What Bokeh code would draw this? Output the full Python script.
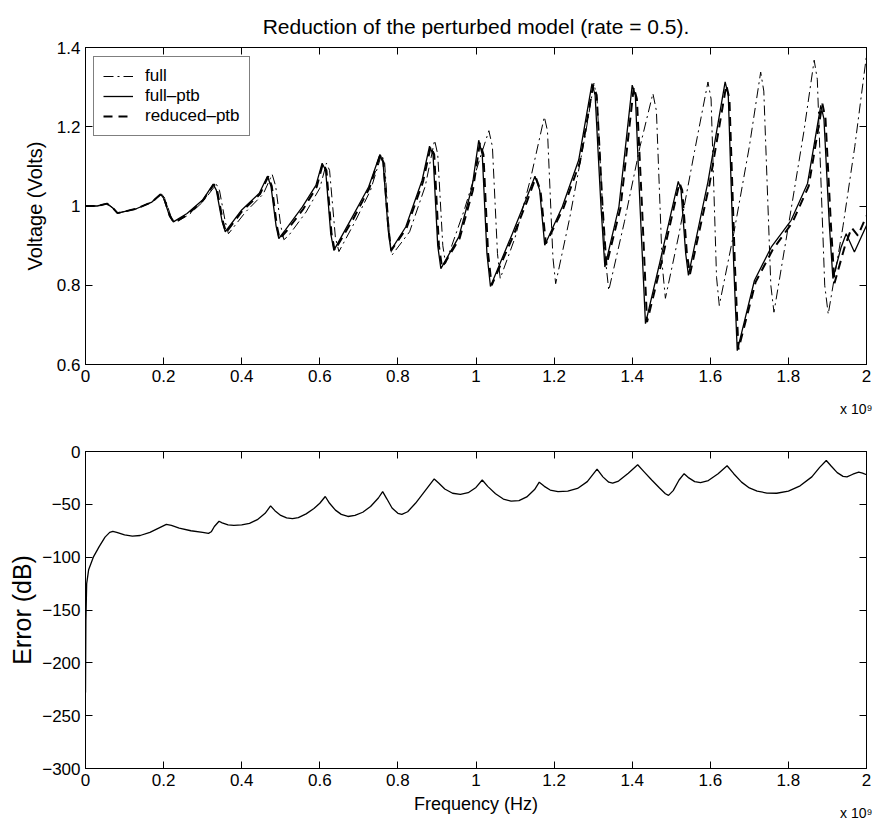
from bokeh.plotting import figure
from bokeh.layouts import column
from bokeh.models import (FixedTicker, LinearAxis, Label, Legend, LegendItem,
                          Range1d, CustomJSTickFormatter)
from bokeh.embed import file_html
from bokeh.resources import INLINE

FONT = "Liberation Sans"

# ---------------- data ----------------
title_text = "Reduction of the perturbed model (rate = 0.5)."
exponent_text = "x 10\u2079"

x_ticks = [0.0, 0.2, 0.4, 0.6, 0.8, 1.0, 1.2, 1.4, 1.6, 1.8, 2.0]
x_tick_labels = ["0", "0.2", "0.4", "0.6", "0.8", "1", "1.2", "1.4", "1.6", "1.8", "2"]

v_ticks = [0.6, 0.8, 1.0, 1.2, 1.4]
v_tick_labels = ["0.6", "0.8", "1", "1.2", "1.4"]

e_ticks = [-300, -250, -200, -150, -100, -50, 0]
e_tick_labels = ["\u2212300", "\u2212250", "\u2212200", "\u2212150", "\u2212100", "\u221250", "0"]

# frequency in units of 1e9 Hz
full_x = [0, 0.03, 0.055, 0.07, 0.082, 0.13, 0.17, 0.195, 0.203, 0.22, 0.23, 0.265, 0.30,
          0.335, 0.343, 0.358, 0.366, 0.41, 0.455, 0.478, 0.487, 0.50, 0.508, 0.52, 0.565,
          0.60, 0.617, 0.625, 0.64, 0.649, 0.69, 0.73, 0.758, 0.766, 0.778, 0.784, 0.83,
          0.87, 0.894, 0.902, 0.915, 0.922, 0.97, 1.01, 1.033, 1.042, 1.055, 1.062, 1.10,
          1.14, 1.175, 1.183, 1.197, 1.204, 1.24, 1.28, 1.302, 1.31, 1.33, 1.340, 1.38,
          1.42, 1.453, 1.462, 1.477, 1.485, 1.52, 1.56, 1.594, 1.602, 1.616, 1.623, 1.66,
          1.70, 1.729, 1.737, 1.755, 1.763, 1.80, 1.84, 1.866, 1.874, 1.893, 1.902, 1.94,
          1.97, 2.0]
full_y = [1.0, 1.0, 1.006, 0.995, 0.982, 0.993, 1.010, 1.030, 1.02, 0.97, 0.958, 0.978, 1.01,
          1.055, 1.04, 0.96, 0.930, 0.985, 1.030, 1.08, 1.05, 0.95, 0.915, 0.925, 0.985,
          1.045, 1.108, 1.09, 0.92, 0.885, 0.96, 1.04, 1.13, 1.11, 0.93, 0.875, 0.935,
          1.05, 1.166, 1.13, 0.90, 0.855, 0.99, 1.12, 1.19, 1.15, 0.88, 0.817, 0.92,
          1.07, 1.225, 1.19, 0.87, 0.804, 0.97, 1.18, 1.31, 1.27, 0.88, 0.787, 0.96,
          1.15, 1.284, 1.24, 0.85, 0.767, 0.93, 1.14, 1.313, 1.27, 0.82, 0.749, 0.93,
          1.15, 1.338, 1.29, 0.80, 0.732, 0.95, 1.19, 1.368, 1.32, 0.80, 0.727, 0.95,
          1.15, 1.38]

ptb_x = [0, 0.03, 0.055, 0.07, 0.082, 0.13, 0.17, 0.192, 0.2, 0.215, 0.225, 0.26, 0.30,
         0.327, 0.335, 0.35, 0.358, 0.40, 0.445, 0.466, 0.475, 0.488, 0.495, 0.512, 0.555,
         0.59, 0.606, 0.615, 0.628, 0.636, 0.683, 0.725, 0.754, 0.762, 0.775, 0.782, 0.82,
         0.862, 0.881, 0.89, 0.902, 0.91, 0.956, 0.99, 1.007, 1.016, 1.028, 1.037, 1.093,
         1.127, 1.151, 1.163, 1.176, 1.221, 1.263, 1.297, 1.305, 1.32, 1.33, 1.366, 1.40,
         1.408, 1.42, 1.434, 1.468, 1.518, 1.525, 1.537, 1.544, 1.594, 1.638, 1.646, 1.66,
         1.669, 1.713, 1.756, 1.807, 1.849, 1.883, 1.891, 1.905, 1.914, 1.935, 1.948, 1.969,
         2.0]
ptb_y = [1.0, 1.0, 1.006, 0.995, 0.982, 0.993, 1.010, 1.030, 1.02, 0.975, 0.960, 0.981, 1.015,
         1.055, 1.04, 0.96, 0.935, 0.990, 1.032, 1.075, 1.05, 0.95, 0.918, 0.94, 0.997,
         1.052, 1.108, 1.09, 0.93, 0.888, 0.972, 1.048, 1.130, 1.11, 0.94, 0.888, 0.947,
         1.065, 1.151, 1.13, 0.90, 0.842, 0.922, 1.048, 1.166, 1.13, 0.88, 0.797, 0.930,
         1.014, 1.075, 1.04, 0.901, 0.998, 1.116, 1.309, 1.28, 1.0, 0.846, 0.998, 1.305,
         1.28, 1.0, 0.703, 0.846, 1.062, 1.04, 0.88, 0.825, 1.061, 1.313, 1.28, 0.85,
         0.635, 0.812, 0.896, 0.964, 1.057, 1.254, 1.22, 0.95, 0.817, 0.896, 0.930, 0.884,
         0.951]

red_x = [0, 0.03, 0.055, 0.07, 0.082, 0.13, 0.17, 0.193, 0.201, 0.216, 0.227, 0.262, 0.30,
         0.329, 0.337, 0.352, 0.360, 0.402, 0.447, 0.468, 0.477, 0.490, 0.497, 0.515, 0.558,
         0.592, 0.608, 0.617, 0.630, 0.638, 0.686, 0.727, 0.755, 0.763, 0.776, 0.783, 0.822,
         0.864, 0.884, 0.893, 0.905, 0.913, 0.958, 0.992, 1.010, 1.019, 1.031, 1.040, 1.096,
         1.130, 1.153, 1.165, 1.179, 1.224, 1.266, 1.300, 1.309, 1.324, 1.334, 1.370, 1.404,
         1.412, 1.425, 1.438, 1.472, 1.521, 1.528, 1.540, 1.548, 1.598, 1.641, 1.649, 1.663,
         1.672, 1.716, 1.76, 1.81, 1.852, 1.887, 1.895, 1.909, 1.918, 1.945, 1.962, 1.978,
         2.0]
red_y = [1.0, 1.0, 1.006, 0.995, 0.982, 0.993, 1.010, 1.030, 1.02, 0.975, 0.958, 0.979, 1.013,
         1.055, 1.04, 0.96, 0.933, 0.988, 1.030, 1.075, 1.05, 0.95, 0.917, 0.937, 0.993,
         1.048, 1.108, 1.09, 0.93, 0.888, 0.968, 1.045, 1.130, 1.11, 0.94, 0.888, 0.944,
         1.060, 1.150, 1.13, 0.90, 0.845, 0.918, 1.04, 1.160, 1.13, 0.88, 0.800, 0.926,
         1.010, 1.072, 1.04, 0.905, 0.995, 1.11, 1.305, 1.28, 1.0, 0.850, 0.995, 1.300,
         1.27, 1.0, 0.707, 0.845, 1.058, 1.04, 0.88, 0.828, 1.055, 1.305, 1.27, 0.85,
         0.638, 0.808, 0.89, 0.958, 1.05, 1.258, 1.22, 0.95, 0.805, 0.90, 0.945, 0.925,
         0.975]

err_x = [0, 0.001, 0.003, 0.008, 0.02, 0.035, 0.05, 0.062, 0.07,
         0.08, 0.1, 0.12, 0.14, 0.165, 0.19, 0.207,
         0.22, 0.24, 0.27, 0.3, 0.315, 0.322, 0.33, 0.342,
         0.35, 0.365, 0.38, 0.4, 0.42, 0.44, 0.46, 0.474,
         0.485, 0.5, 0.515, 0.53, 0.545, 0.565, 0.585, 0.60, 0.614,
         0.625, 0.64, 0.655, 0.672, 0.69, 0.71, 0.73, 0.75, 0.761,
         0.772, 0.785, 0.8, 0.81, 0.825, 0.845, 0.87, 0.893,
         0.905, 0.92, 0.94, 0.96, 0.98, 1.0, 1.016,
         1.03, 1.05, 1.07, 1.09, 1.11, 1.13, 1.15, 1.162,
         1.175, 1.19, 1.21, 1.235, 1.26, 1.285, 1.31,
         1.325, 1.34, 1.35, 1.365, 1.39, 1.414,
         1.43, 1.45, 1.47, 1.485, 1.493, 1.505, 1.52, 1.533,
         1.545, 1.56, 1.575, 1.595, 1.62, 1.643,
         1.66, 1.68, 1.70, 1.72, 1.745, 1.77, 1.8, 1.83, 1.86, 1.88, 1.897,
         1.91, 1.925, 1.94, 1.95, 1.965, 1.98, 1.99, 2.0]
err_y = [-228, -160, -125, -112, -100, -90, -81, -76.5, -75.5,
         -76.5, -79, -80, -79.5, -76.5, -72, -69,
         -70, -72.5, -75, -76.5, -77.5, -76, -71, -66,
         -67.5, -69.5, -70, -69.5, -68, -64.5, -58.5, -51.5,
         -56, -60.5, -62.8, -63.5, -62.5, -59, -54, -49, -42.6,
         -49, -55.5, -59.5, -61.5, -60.5, -57.5, -52, -44, -38,
         -45, -53.5, -58.5, -59.5, -57, -49, -37, -26,
         -30, -35.5, -39.5, -40.5, -39, -34, -27,
         -33, -40, -45, -47, -46.5, -43, -36, -29,
         -33, -36.5, -38, -37.5, -35, -28.5, -16.7,
         -24, -29, -30, -28, -20.5, -12.6,
         -19, -27, -34.5, -40, -41.5, -37, -27, -21,
         -25, -28.5, -29.5, -27.5, -21, -13.5,
         -21, -29, -34.5, -37.5, -39.3, -39.5, -37.5, -32.5, -24, -15, -8.5,
         -14, -20, -23.5, -24, -21.5, -19.5, -20.5, -22]

# ---------------- helpers ----------------
def fmt(ticks, labels):
    return CustomJSTickFormatter(args=dict(tv=ticks, tl=labels), code="""
        let b = 0;
        for (let i = 0; i < tv.length; i++) {
            if (Math.abs(tv[i] - tick) < Math.abs(tv[b] - tick)) b = i;
        }
        return tl[b];
    """)

BLANK = "return '';"


def style_axis(ax, ticks, formatter, label_px="17px"):
    ax.ticker = FixedTicker(ticks=ticks)
    ax.formatter = formatter
    ax.major_tick_in = 7
    ax.major_tick_out = 0
    ax.minor_tick_line_color = None
    ax.axis_line_color = "black"
    ax.major_tick_line_color = "black"
    ax.major_label_text_font = FONT
    ax.major_label_text_font_size = label_px
    ax.major_label_text_color = "black"
    ax.major_label_standoff = 5
    ax.axis_label_text_color = "black"
    ax.axis_label_text_font = FONT
    ax.axis_label_text_font_style = "normal"


def make_fig(height, top, bottom, yr, yticks, ylabels):
    p = figure(width=874, height=height, output_backend="svg", toolbar_location=None,
               x_range=Range1d(0, 2), y_range=Range1d(*yr),
               min_border_left=85, min_border_right=8,
               min_border_top=top, min_border_bottom=bottom,
               x_axis_location=None, y_axis_location=None)
    p.grid.visible = False
    p.outline_line_color = "black"
    p.outline_line_width = 1
    p.background_fill_color = "white"
    p.border_fill_color = "white"
    xb = LinearAxis()
    style_axis(xb, x_ticks, fmt(x_ticks, x_tick_labels))
    p.add_layout(xb, "below")
    yl = LinearAxis()
    style_axis(yl, yticks, fmt(yticks, ylabels))
    p.add_layout(yl, "left")
    ra = LinearAxis()
    style_axis(ra, yticks, CustomJSTickFormatter(code=BLANK))
    ra.major_label_standoff = 0
    p.add_layout(ra, "right")
    ta = LinearAxis()
    style_axis(ta, x_ticks, CustomJSTickFormatter(code=BLANK))
    ta.major_label_standoff = 0
    p.add_layout(ta, "above")
    return p, xb, yl


def add_exponent(p, y_bottom):
    # anchored at the bottom-right corner of the axes, floated 44 px below it
    p.add_layout(Label(x=x_ticks[-1], y=y_bottom, x_units="data", y_units="data",
                       text=exponent_text, text_align="right", text_baseline="alphabetic",
                       x_offset=6, y_offset=-44, text_font=FONT, text_font_size="14px",
                       text_color="black"), "below")

# ---------------- top figure ----------------
p1, xb1, yl1 = make_fig(420, 47, 56, (0.6, 1.4), v_ticks, v_tick_labels)
p1.title.text = title_text
p1.title.align = "center"
p1.title.text_font = FONT
p1.title.text_font_size = "21px"
p1.title.text_font_style = "normal"
p1.title.text_color = "black"
p1.title.standoff = 19

yl1.axis_label = "Voltage (Volts)"
yl1.axis_label_text_font_size = "20px"
yl1.axis_label_standoff = 8

r_full = p1.line(full_x, full_y, line_color="black", line_width=1, line_dash="10 4 2 4")
r_ptb = p1.line(ptb_x, ptb_y, line_color="black", line_width=1.3)
r_red = p1.line(red_x, red_y, line_color="black", line_width=2, line_dash="9 6")

legend = Legend(items=[LegendItem(label="full", renderers=[r_full]),
                       LegendItem(label="full\u2013ptb", renderers=[r_ptb]),
                       LegendItem(label="reduced\u2013ptb", renderers=[r_red])],
                location=(8, 228))
legend.padding = 9
legend.spacing = 0
legend.label_height = 20
legend.glyph_height = 20
legend.glyph_width = 30
legend.label_standoff = 12
legend.label_text_font = FONT
legend.label_text_font_size = "17px"
legend.label_text_color = "black"
legend.border_line_color = "black"
legend.border_line_width = 1
legend.background_fill_color = "white"
legend.background_fill_alpha = 1
p1.add_layout(legend)
add_exponent(p1, v_ticks[0])

# ---------------- bottom figure ----------------
p2, xb2, yl2 = make_fig(414, 31, 66, (-300, 0), e_ticks, e_tick_labels)
yl2.axis_label = "Error (dB)"
yl2.axis_label_text_font_size = "25px"
yl2.axis_label_standoff = 3
xb2.axis_label = "Frequency (Hz)"
xb2.axis_label_text_font_size = "18px"
xb2.axis_label_standoff = 5
p2.line(err_x, err_y, line_color="black", line_width=1.3)
add_exponent(p2, e_ticks[0])

layout = column(p1, p2, spacing=0)
open("out.html", "w").write(file_html(layout, INLINE))
